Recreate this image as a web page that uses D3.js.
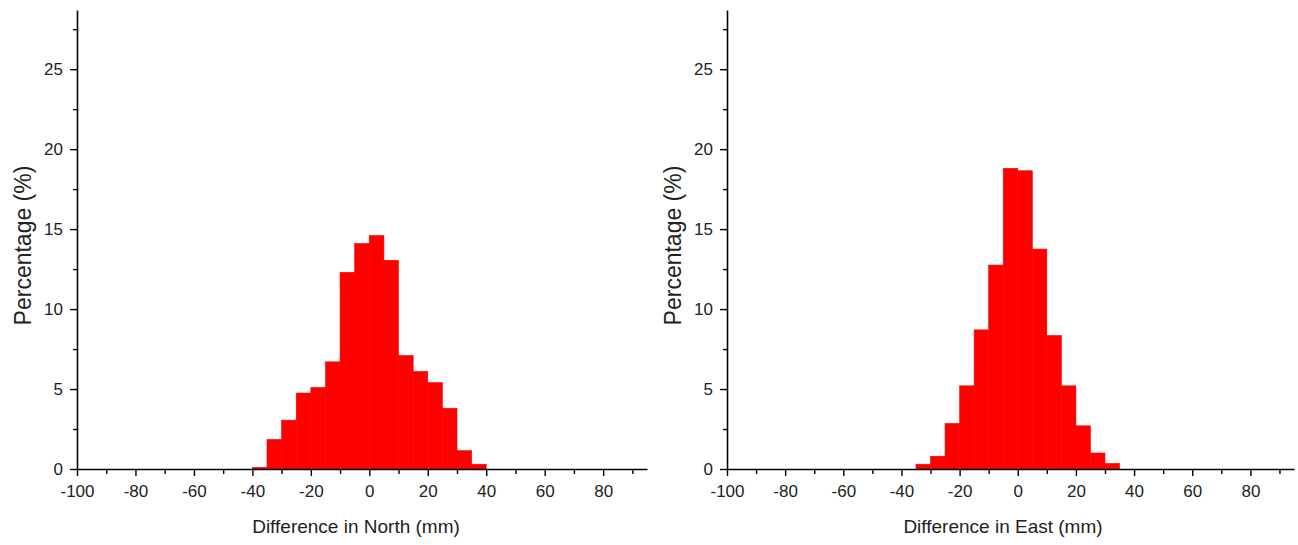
<!DOCTYPE html>
<html>
<head>
<meta charset="utf-8">
<script src="https://cdn.jsdelivr.net/npm/d3@7"></script>
<style>
  body { margin: 0; background: #fff; }
  svg { display: block; font-family: "Liberation Sans", Arial, sans-serif; }
  .tick text { font-size: 17px; fill: #222; }
</style>
</head>
<body>
<svg id="chart" width="1298" height="545"></svg>
<script>
// bin edges (mm), 5 mm wide
const northBins = [-40, -35, -30, -25, -20, -15, -10, -5, 0, 5, 10, 15, 20, 25, 30, 35];
const northPct  = [0.1, 1.85, 3.05, 4.75, 5.1, 6.7, 12.3, 14.1, 14.6, 13.05, 7.1, 6.1, 5.4, 3.8, 1.15, 0.3];

const eastBins = [-35, -30, -25, -20, -15, -10, -5, 0, 5, 10, 15, 20, 25, 30];
const eastPct  = [0.3, 0.8, 2.85, 5.2, 8.7, 12.75, 18.8, 18.65, 13.75, 8.35, 5.2, 2.7, 1.0, 0.35];

const binWidth = 5;
const xTicks = [-100, -80, -60, -40, -20, 0, 20, 40, 60, 80];
const yTicks = [0, 5, 10, 15, 20, 25];

const svg = d3.select('#chart');
const plain = d => String(d);   // keep the ascii hyphen like the original

function panel(opts) {
  const { left, right, top, bottom, bins, values, xLabel, xLabelX } = opts;

  const x = d3.scaleLinear().domain([-100, 95]).range([left, right]);
  const y = d3.scaleLinear().domain([0, 28.7]).range([bottom, top]);

  const g = svg.append('g');

  // bars
  g.selectAll('rect')
    .data(bins.map((b, i) => ({ x0: b, v: values[i] })))
    .enter()
    .append('rect')
    .attr('x', d => x(d.x0))
    .attr('width', d => x(d.x0 + binWidth) - x(d.x0))
    .attr('y', d => y(d.v))
    .attr('height', d => y(0) - y(d.v))
    .attr('fill', '#ff0000')
    .attr('stroke', '#ff0000')
    .attr('stroke-width', 0.6);

  // minor ticks first, then major on top
  g.append('g')
    .attr('transform', `translate(0,${bottom})`)
    .call(d3.axisBottom(x).tickValues(d3.range(-90, 95, 20)).tickSize(5).tickFormat(''))
    .call(a => a.select('.domain').remove())
    .call(a => a.selectAll('line').attr('stroke-width', 1.4));

  g.append('g')
    .attr('transform', `translate(${left},0)`)
    .call(d3.axisLeft(y).tickValues(d3.range(2.5, 28, 5)).tickSize(4).tickFormat(''))
    .call(a => a.select('.domain').remove())
    .call(a => a.selectAll('line').attr('stroke-width', 1.4));

  g.append('g')
    .attr('transform', `translate(0,${bottom})`)
    .call(d3.axisBottom(x).tickValues(xTicks).tickFormat(plain).tickSize(7).tickSizeOuter(0).tickPadding(9))
    .call(a => a.select('.domain').attr('stroke-width', 1.6))
    .call(a => a.selectAll('line').attr('stroke-width', 1.4));

  g.append('g')
    .attr('transform', `translate(${left},0)`)
    .call(d3.axisLeft(y).tickValues(yTicks).tickFormat(plain).tickSize(7).tickSizeOuter(0).tickPadding(7))
    .call(a => a.select('.domain').attr('stroke-width', 1.6))
    .call(a => a.selectAll('line').attr('stroke-width', 1.4));

  g.append('text')
    .attr('x', xLabelX)
    .attr('y', 533)
    .attr('text-anchor', 'middle')
    .attr('font-size', 19)
    .attr('fill', '#222')
    .text(xLabel);

  g.append('text')
    .attr('transform', `translate(${left - 46},${(top + bottom) / 2 + 6}) rotate(-90)`)
    .attr('text-anchor', 'middle')
    .attr('font-size', 23)
    .attr('fill', '#222')
    .text('Percentage (%)');
}

panel({ left: 77, right: 647, top: 10, bottom: 469,
        bins: northBins, values: northPct,
        xLabel: 'Difference in North (mm)', xLabelX: 356 });

panel({ left: 727, right: 1294, top: 10, bottom: 469,
        bins: eastBins, values: eastPct,
        xLabel: 'Difference in East (mm)', xLabelX: 1003 });
</script>
</body>
</html>
